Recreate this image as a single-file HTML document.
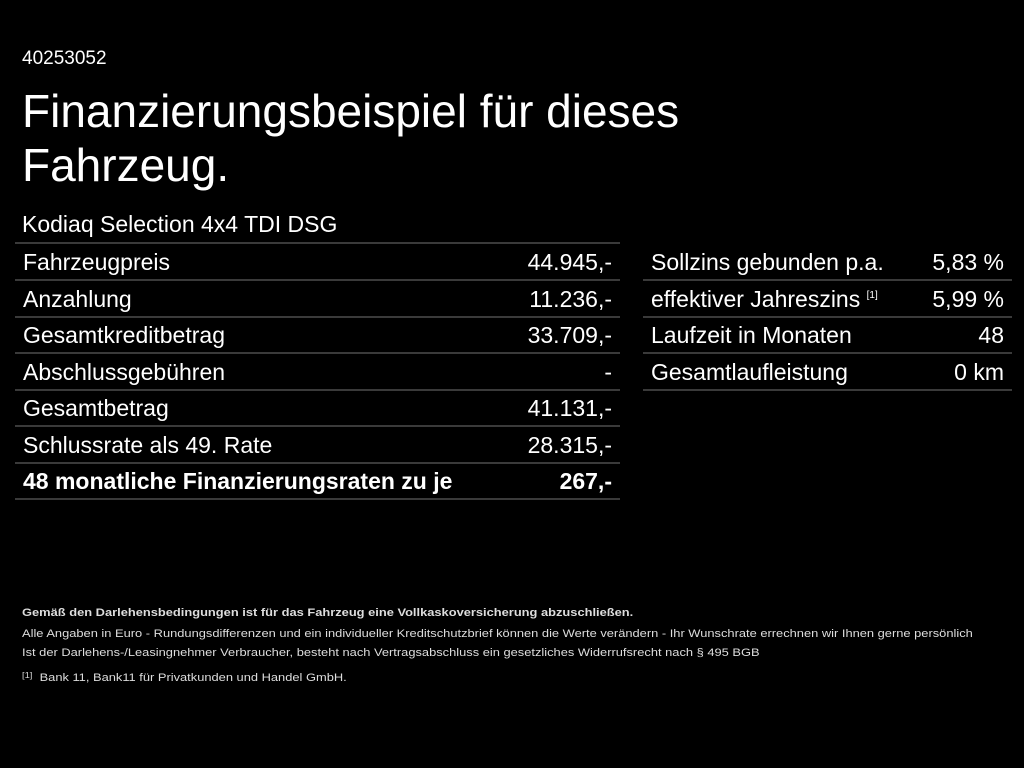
<!DOCTYPE html>
<html><head><meta charset="utf-8"><style>
body{margin:0;width:1024px;height:768px;background:#000;color:#fff;font-family:"Liberation Sans",Arial,sans-serif;position:relative;overflow:hidden}
.a{position:absolute;white-space:nowrap}
.r{position:absolute;height:35px;border-bottom:2px solid #3a3a3a;font-size:23px;line-height:36px}
.r .l{position:absolute;left:8px}
.r .v{position:absolute;right:8px}
.f{position:absolute;left:22px;font-size:11px;color:#ddd;white-space:nowrap;transform:scaleX(1.17);transform-origin:left}
sup{font-size:10px;position:relative;top:-9px;vertical-align:baseline}
</style></head><body>
<div class="a" style="left:22px;top:48px;font-size:19px">40253052</div>
<div class="a" style="left:22px;top:84px;font-size:46px;line-height:54px">Finanzierungsbeispiel für dieses<br>Fahrzeug.</div>
<div class="a" style="left:22px;top:211px;font-size:23px">Kodiaq Selection 4x4 TDI DSG</div>
<div style="position:absolute;left:15px;top:242px;width:605px;border-top:2px solid #3a3a3a"></div>
<div class="r" style="left:15px;width:605px;top:244px"><span class="l">Fahrzeugpreis</span><span class="v">44.945,-</span></div>
<div class="r" style="left:15px;width:605px;top:281px"><span class="l">Anzahlung</span><span class="v">11.236,-</span></div>
<div class="r" style="left:15px;width:605px;top:317px"><span class="l">Gesamtkreditbetrag</span><span class="v">33.709,-</span></div>
<div class="r" style="left:15px;width:605px;top:354px"><span class="l">Abschlussgebühren</span><span class="v">-</span></div>
<div class="r" style="left:15px;width:605px;top:390px"><span class="l">Gesamtbetrag</span><span class="v">41.131,-</span></div>
<div class="r" style="left:15px;width:605px;top:427px"><span class="l">Schlussrate als 49. Rate</span><span class="v">28.315,-</span></div>
<div class="r" style="left:15px;width:605px;top:463px;font-weight:bold"><span class="l">48 monatliche Finanzierungsraten zu je</span><span class="v">267,-</span></div>
<div class="r" style="left:643px;width:369px;top:244px"><span class="l">Sollzins gebunden p.a.</span><span class="v">5,83 %</span></div>
<div class="r" style="left:643px;width:369px;top:281px"><span class="l">effektiver Jahreszins <sup>[1]</sup></span><span class="v">5,99 %</span></div>
<div class="r" style="left:643px;width:369px;top:317px"><span class="l">Laufzeit in Monaten</span><span class="v">48</span></div>
<div class="r" style="left:643px;width:369px;top:354px"><span class="l">Gesamtlaufleistung</span><span class="v">0 km</span></div>
<div class="f" style="top:607px;font-weight:bold">Gemäß den Darlehensbedingungen ist für das Fahrzeug eine Vollkaskoversicherung abzuschließen.</div>
<div class="f" style="top:628px">Alle Angaben in Euro - Rundungsdifferenzen und ein individueller Kreditschutzbrief können die Werte verändern - Ihr Wunschrate errechnen wir Ihnen gerne persönlich</div>
<div class="f" style="top:647px">Ist der Darlehens-/Leasingnehmer Verbraucher, besteht nach Vertragsabschluss ein gesetzliches Widerrufsrecht nach § 495 BGB</div>
<div class="f" style="top:672px"><span style="font-size:8px;position:relative;top:-3px">[1]</span>&nbsp; Bank 11, Bank11 für Privatkunden und Handel GmbH.</div>
</body></html>
